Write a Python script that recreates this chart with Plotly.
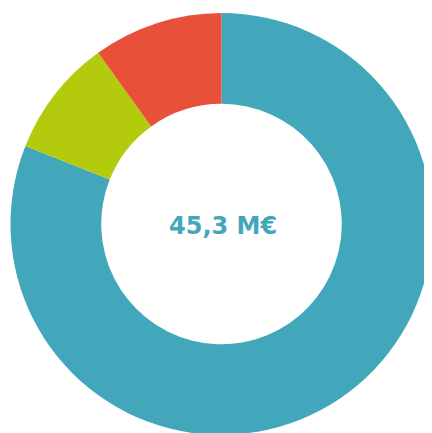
import plotly.graph_objects as go

labels = ["A", "B", "C"]
values = [36.7, 4.1, 4.5]
colors = ["#43A7BC", "#B4CB0D", "#E8503A"]
center_text = "45,3 M€"

fig = go.Figure(go.Pie(
    labels=labels,
    values=values,
    hole=0.57,
    sort=False,
    direction="clockwise",
    rotation=0,
    textinfo="none",
    hoverinfo="label+value",
    marker=dict(colors=colors, line=dict(color="white", width=0)),
    domain=dict(x=[0.0058, 0.9826], y=[0.0139, 0.9885]),
    showlegend=False,
))

fig.add_annotation(
    x=0.4977, y=0.4965, xref="paper", yref="paper",
    text=center_text, showarrow=False,
    font=dict(family="DejaVu Sans", size=24, color="#43A7BC", weight="bold"),
)

fig.update_layout(
    width=432, height=433,
    margin=dict(l=0, r=0, t=0, b=0),
    paper_bgcolor="white",
    plot_bgcolor="white",
)

fig.write_html("out.html")
